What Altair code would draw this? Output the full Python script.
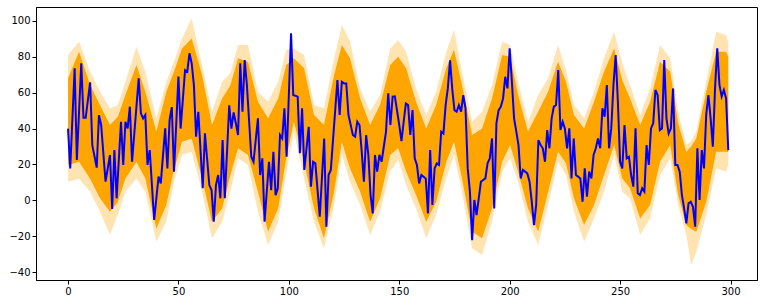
import altair as alt
import pandas as pd

# Blue series (vertices)
blue_t = [0, 1, 3, 4, 6, 7, 8, 10, 11, 13, 14, 15, 17, 19, 20, 21, 22, 24, 25, 26, 27, 28, 29,
          32, 33, 34, 35, 36, 37, 39, 41, 42, 44, 45, 46, 47, 48, 50, 51, 53, 54, 55, 56, 57, 58,
          59, 61, 62, 64, 65, 66, 67, 68, 69, 70, 71, 73, 74, 75, 76, 77, 78, 79, 80, 81, 83, 84,
          86, 87, 88, 89, 91, 92, 93, 94, 95, 96, 97, 98, 99, 101, 102, 104, 105, 106, 107, 109,
          110, 111, 112, 114, 116, 117, 118, 119, 122, 123, 124, 125, 126, 127, 129, 130, 131,
          132, 133, 134, 135, 136, 137, 138, 139, 140, 141, 142, 144, 145, 146, 147, 148, 150,
          151, 152, 153, 154, 155, 156, 157, 158, 159, 160, 162, 163, 164, 165, 166, 167, 168,
          169, 170, 171, 172, 173, 174, 175, 176, 177, 178, 179, 180, 181, 182, 183, 184, 185,
          186, 187, 188, 189, 190, 191, 192, 193, 194, 195, 196, 197, 198, 199, 200, 201, 202,
          203, 204, 205, 206, 207, 208, 209, 210, 211, 212, 213, 214, 215, 216, 217, 218, 219,
          220, 221, 222, 223, 224, 225, 226, 227, 228, 229, 230, 231, 232, 233, 234, 235, 236,
          237, 238, 239, 240, 241, 242, 243, 244, 245, 246, 247, 248, 249, 250, 251, 252, 253,
          254, 255, 256, 257, 258, 259, 260, 261, 262, 263, 264, 265, 266, 267, 268, 269, 270,
          271, 272, 273, 274, 275, 276, 277, 278, 279, 280, 281, 282, 283, 284, 285, 286, 287,
          288, 289, 290, 291, 292, 293, 294, 295, 296, 297, 298, 299]
blue_v = [40, 17.8, 73.6, 22.5, 76.4, 46, 46, 65.8, 30.8, 18.2, 47.5, 42, 10.4, 25.3, -4.9, 28,
          1.1, 43.8, 19.7, 43.8, 40.1, 52.2, 21.5,
          68, 48.5, 45.7, 47.6, 19.7, 28, -11, 13.2, 9.4, 40.1, 17.8, 44.8, 52, 16, 69, 40, 72.6,
          71.7, 82, 76.4, 64.3, 35.5,
          49.4, 6.7, 37.3, 8.5, 5.7, -11.9, 8.5, 14.1, 1.1, 33.6, 1.1, 53, 40, 49, 43, 36.4, 76.4,
          49.4, 78.2, 64.3, 24.3, 21.5,
          45.7, 14.1, 23.4, -11.9, 21.5, 5.7, 27.1, 2.9, 6.7, 36.4, 34.5, 51.3, 24.3, 93.1, 58.7,
          57.8, 26.2, 51.3, 16.9, 41,
          7.6, 21.5, 20.6, -9.1, 34.5, -14.7, 14.1, 16.9, 67.1, 47.6, 66.1, 65.2, 65.2, 47.6,
          36.4, 35.5, 43.8,
          42, 27.1, 10.4, 36.4, 25.3, 2.9, -7.3, 25.3, 16, 25.3, 21.5, 38.3, 59.6, 42, 57.8, 58,
          42,
          33, 43.8, 54, 53.1, 36.4, 50.3, 23.4, 19.7, 9.4, 14.1, 12.2, -7.3, 28, -2.6, 17.8, 20.6,
          19.7,
          38.3, 37.3, 53.1, 62.4, 78, 62, 50.3, 49.4, 53.1, 49.4, 58.7, 51.3, 17.8, 4.8, -22.2,
          0.2, -8.2,
          1.1, 10.4, 11.3, 12.2, 20.6, 23.4, 34.5, -4.5, 42.9, 50.3, 52.2, 56.8, 68.9, 62.4, 84.7,
          66.1, 45.7,
          38.3, 30.8, 12.2, 16.9, 16, 15, 10.4, -0.8, -13.8, -2.6, 33.6, 30.8, 29, 21.5, 39.2, 29,
          45.7,
          52.2, 53.1, 72.6, 39.2, 43.8, 40, 29, 40.1, 12.2, 34.5, 14.1, 13.2, 12.2, -0.8, 17.8, 2,
          16,
          12.2, 25.3, 29, 34.5, 29, 51.3, 46.6, 64.3, 29, 40.1, 64.3, 81, 55, 21.5, 17.8, 42, 23.4,
          24.3, 14.1, 7.6, 40.1, 3.9, 2.9, 6.7, 4.8, 30.8, 19.7, 40.1, 42.9, 61.5, 58.7, 39.2,
          40.1, 78.2,
          45.7, 37.3, 40.1, 62.4, 19.7, 19.7, 16, 2.9, -4.5, -12.9, -1.7, -0.8, -3.6, -14.7, 29,
          0.2, 28,
          17.8, 47.6, 58.7, 45.7, 29.9, 62.4, 84.7, 64.3, 57.8, 61.5, 56.8, 28]

# Orange ensemble envelopes
band_t = [0, 5, 10, 14.5, 19, 22.5, 26, 31, 35, 40, 44.5, 48, 51.6, 56, 60.7, 65.2, 69.8, 73.5,
          77, 81.5, 86, 90.6, 95.2, 98.8, 102.3, 106.9, 111.4, 115.9, 120.5, 124, 127.7, 132.3,
          136.8, 141.3, 145.9, 149.5, 153.1, 157.6, 162.2, 166.7, 171.3, 174.8, 178.4, 183,
          187.5, 192, 196.6, 200.2, 203.8, 208.3, 212.9, 217.4, 221.9, 225.5, 229.1, 233.7,
          238.2, 242.7, 247.3, 251, 254.5, 259.1, 263.6, 268.1, 272.7, 276.3, 280, 282.2, 284.5,
          289, 293.5, 298, 299]
pale_top = [81, 88.5, 71.7, 60.6, 51.3, 53, 66.1, 85.7, 71.7, 45.7, 66.1, 77.3, 90.3, 101.5,
            75.4, 49.4, 66.1, 70.8, 86.6, 86.6, 60.6, 55, 66.1, 84, 84.7, 81, 53.1, 51.3, 79.2,
            97.7, 88.5, 62.4, 49.4, 58.7, 84.7, 89.4, 82.9, 62.4, 47.6, 60.6, 82.9, 95, 71.7,
            43.8, 49.4, 64.3, 88.5, 86.6, 66.1, 43.8, 58.7, 68, 86.6, 72.6, 53.1, 45.7, 60.6,
            79.2, 94, 76.3, 64.3, 47.6, 62.4, 86.6, 79.2, 49.4, 30.8, 33, 38.3, 66.1, 94, 92.2, 88]
pale_bot = [10.4, 12, 4.8, -6.4, -19.4, -8, 4.8, 12.2, 4.8, -23.1, -12, 10, 25.3, 27.1, 4.8,
            -21.2, -12, 5, 23.4, 19.7, -6.4, -25, -12, 15, 38.3, 12.2, -12, -26.8, -2.6, 25.3,
            10.4, -2.6, -19.4, -6.4, 16, 22.5, 8.5, -4.5, -21.2, -8.2, 12.2, 25.3, 4.8, -26.8,
            -30.5, -12, 16, 23.4, 10.4, -12, -25, -2.6, 21.5, 14, -6.4, -23.1, -10.1, 4.8, 25.3,
            4.8, 1.1, -19.4, -10.1, 14.1, 23.4, -2.6, -19.4, -36.1, -28.7, -8.2, 17.8, 16, 20]
core_top = [68, 82.9, 64.3, 53, 42, 46.5, 58.7, 75.4, 60.6, 38.3, 60.6, 71.7, 84.7, 90.3, 69.9,
            42, 56.8, 64, 79.2, 77.3, 55, 45.7, 56.8, 75.5, 79.2, 73.6, 47.6, 42, 69.9, 86.6,
            79.2, 56.8, 42, 53.1, 75.4, 80, 73.6, 55, 40.1, 53.1, 73.6, 84, 64.3, 36.4, 40.1,
            56.8, 81, 80, 58.7, 38.3, 49.4, 60.6, 77.3, 66.1, 47.6, 40.1, 55, 71.7, 84.7, 67,
            56.8, 42, 55, 77.3, 71.7, 43, 27.1, 30, 34.5, 60.6, 82.9, 82.9, 80]
core_bot = [19.7, 21.5, 12, 1.1, -6.4, -1, 12.2, 21.5, 12.2, -15.7, -2.6, 17, 32.7, 34.5, 12.2,
            -12, -4.5, 14, 29, 25.3, 4.8, -17.5, -4.5, 23.4, 43.8, 21.5, -4.5, -21.2, 4.8, 32.6,
            17.8, 4.8, -12, 1.1, 25.3, 29, 16, 2.9, -12, -0.8, 21.5, 32.6, 12.2, -17.5, -21.2,
            -4.5, 21.5, 30.8, 16, -4.5, -17.5, 4.8, 27.1, 20.6, 1.1, -13.8, -2.6, 14.1, 30.8,
            12.2, 6.7, -10.1, -2.6, 21.5, 30.8, 3, -13.8, -16, -17.5, -0.8, 27.1, 27.1, 27]

x_ticks = [0, 50, 100, 150, 200, 250, 300]
y_ticks = [-40, -20, 0, 20, 40, 60, 80, 100]

blue_df = pd.DataFrame({"t": blue_t, "v": blue_v})
band_df = pd.DataFrame({"t": band_t, "pt": pale_top, "pb": pale_bot, "ct": core_top, "cb": core_bot})

xs = alt.Scale(domain=[-14.5, 312], nice=False, zero=False)
ys = alt.Scale(domain=[-44.45, 107.8], nice=False, zero=False)


def xax():
    return alt.Axis(values=x_ticks, title=None, grid=False, labelFlush=False, labelOverlap=False)


def yax():
    return alt.Axis(values=y_ticks, title=None, grid=False, labelOverlap=False, tickCount=8)


pale = alt.Chart(band_df).mark_area(color="#FFA500", opacity=0.3, clip=True).encode(
    x=alt.X("t:Q", scale=xs, axis=xax()),
    y=alt.Y("pt:Q", scale=ys, axis=yax()),
    y2="pb:Q",
)
core = alt.Chart(band_df).mark_area(color="#FFA500", opacity=1.0, clip=True).encode(
    x=alt.X("t:Q", scale=xs, axis=xax()),
    y=alt.Y("ct:Q", scale=ys, axis=yax()),
    y2="cb:Q",
)
line = alt.Chart(blue_df).mark_line(color="#0000FF", strokeWidth=2, clip=True).encode(
    x=alt.X("t:Q", scale=xs, axis=xax()),
    y=alt.Y("v:Q", scale=ys, axis=yax()),
)

chart = alt.layer(pale, core, line).properties(
    width=721, height=273,
    autosize=alt.AutoSizeParams(type="none"),
    padding={"left": 36, "top": 7, "right": 10, "bottom": 23},
    background="white",
).configure_view(stroke="black", strokeWidth=1).configure_axis(
    labelFont="DejaVu Sans", labelFontSize=10, labelColor="black",
    tickColor="black", domainColor="black", tickSize=4, labelPadding=2, domain=True,
)

chart.save("out.html", embed_options={"renderer": "svg", "actions": False})
